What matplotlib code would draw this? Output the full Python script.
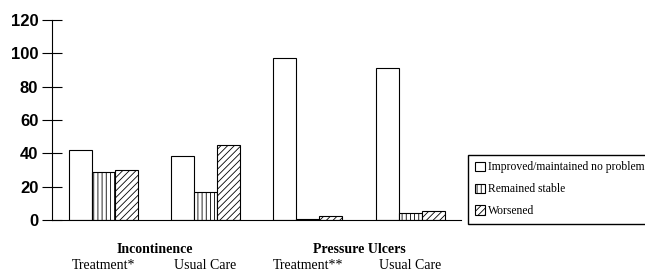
import numpy as np
import matplotlib
matplotlib.use("Agg")
import matplotlib.pyplot as plt

# groups along the x axis
groups = ["Treatment*", "Usual Care", "Treatment**", "Usual Care"]
outcomes = ["Incontinence", "Pressure Ulcers"]
series = ["Improved/maintained no problem", "Remained stable", "Worsened"]

improved = [42, 38.5, 97.5, 91]
stable = [29, 17, 0.4, 4]
worsened = [30, 45, 2.5, 5.5]

yticks = [0, 20, 40, 60, 80, 100, 120]

fig = plt.figure(figsize=(6.45, 2.72), dpi=100)
ax = fig.add_axes([0.081, 0.191, 0.634, 0.735])

x = np.arange(len(groups))
w = 0.225
hatches = ["", "||||", "/////"]
plt.rcParams["hatch.linewidth"] = 0.6
for i, (vals, h, lab) in enumerate(zip([improved, stable, worsened], hatches, series)):
    ax.bar(x + (i - 1) * w, vals, w, color="white", edgecolor="black",
           linewidth=0.8, hatch=h, label=lab)

ax.set_xlim(-0.5, 3.5)
ax.set_ylim(0, 120)
ax.set_yticks(yticks)
ax.set_yticklabels([str(t) for t in yticks], fontsize=12, fontweight="bold",
                   family="Liberation Sans")
ax.tick_params(axis="y", direction="inout", length=14, width=0.8, pad=3)
ax.set_xticks([])
for s in ["top", "right"]:
    ax.spines[s].set_visible(False)
ax.spines["left"].set_linewidth(0.8)
ax.spines["bottom"].set_linewidth(0.8)

# group labels below the axis
for i, g in enumerate(groups):
    ax.text(i, -27, g, ha="center", va="center", fontsize=10,
            family="Liberation Serif", clip_on=False)
for j, o in enumerate(outcomes):
    ax.text(2 * j + 0.5, -17.5, o, ha="center", va="center", fontsize=10,
            fontweight="bold", family="Liberation Serif", clip_on=False)

fig.legend(loc="upper left", bbox_to_anchor=(0.726, 0.43), frameon=True,
           fancybox=False, edgecolor="black", framealpha=1,
           prop={"family": "Liberation Serif", "size": 8.4},
           handlelength=0.9, handleheight=0.9, handletextpad=0.25,
           labelspacing=0.85, borderpad=0.55, borderaxespad=0)

fig.savefig("out.png", dpi=100)
